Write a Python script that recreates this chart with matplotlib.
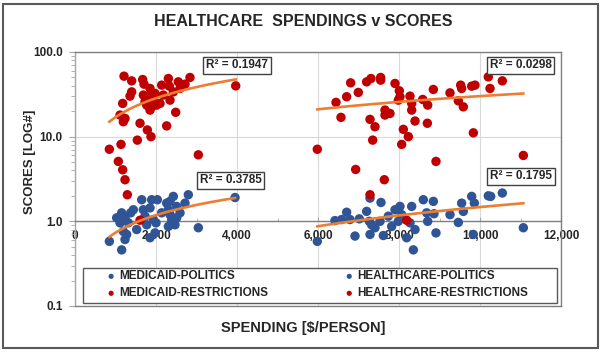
import numpy as np
import matplotlib
matplotlib.use("Agg")
import matplotlib.pyplot as plt
from matplotlib.patches import Rectangle
from matplotlib.ticker import FuncFormatter, FixedLocator, LogLocator, NullFormatter

plt.rcParams['font.family'] = ['Liberation Sans', 'DejaVu Sans']
plt.rcParams['font.weight'] = 'bold'

# ---- data ----
med_pol_x = [848, 1152, 1152, 1111, 1235, 1193, 1276, 1375, 1523, 1646, 1687, 1728, 1852,
             1893, 1933, 2000, 2033, 1852, 2263, 2305, 2346, 2428, 2387, 2469, 2510, 2593,
             2716, 2798, 3045, 3951, 2305, 2140, 1235, 1440, 2346, 1770, 1975, 2510, 1029, 1317]
med_pol_y = [0.58, 0.46, 1.26, 0.96, 1.10, 0.76, 0.70, 1.26, 0.80, 1.80, 1.37, 1.15, 0.64,
             1.80, 1.05, 0.96, 1.80, 1.44, 1.64, 1.37, 1.20, 1.97, 1.05, 0.91, 1.50, 1.26,
             1.64, 2.06, 0.84, 1.91, 0.87, 1.26, 0.61, 1.37, 1.72, 0.91, 0.73, 1.10, 1.10, 0.96]

med_res_x = [1210, 1399, 1671, 1704, 1852, 1399, 1358, 1687, 1810, 1933, 1770, 1893, 2017,
             1852, 1177, 1111, 1235, 1193, 2140, 2305, 2329, 2428, 2551, 2716, 2839, 2593,
             2181, 2346, 2099, 2486, 3968, 1605, 1786, 1876, 2263, 1539, 848, 1136, 1070,
             1177, 1235, 3045, 1728, 1975, 1292, 1605]
med_res_y = [51.8, 45.6, 47.3, 41.7, 37.1, 33.8, 30.1, 31.0, 29.6, 27.0, 23.6, 22.5, 23.6,
             20.6, 24.7, 18.0, 16.4, 15.0, 40.6, 48.6, 39.5, 33.8, 44.4, 41.7, 50.0, 37.1,
             31.0, 27.0, 24.7, 19.4, 39.8, 14.4, 12.0, 10.0, 13.4, 9.1, 7.1, 8.1, 5.1,
             4.06, 3.1, 6.1, 25.8, 32.4, 2.06, 1.03]

hc_pol_x = [5983, 6419, 6584, 6707, 6790, 6913, 7020, 7201, 7284, 7267, 7284, 7325, 7407,
            7555, 7531, 7613, 7736, 7819, 7901, 8024, 8066, 7983, 8189, 8313, 8354, 8271,
            8395, 8600, 8683, 8708, 8848, 8864, 8913, 9259, 9465, 9547, 9588, 9794, 9860,
            9835, 10205, 10264, 10551, 11070]
hc_pol_y = [0.58, 1.02, 1.05, 1.28, 1.05, 0.67, 1.07, 1.31, 1.88, 1.00, 0.70, 0.91, 0.84,
            1.67, 1.00, 0.68, 1.15, 0.87, 1.37, 1.50, 1.20, 1.00, 0.64, 1.50, 0.46, 0.96,
            0.80, 1.80, 1.26, 1.00, 1.72, 1.23, 0.73, 1.20, 0.97, 1.64, 1.31, 1.97, 1.64,
            0.70, 2.00, 1.97, 2.16, 0.84]

hc_res_x = [5983, 6444, 6707, 6567, 6806, 6995, 7201, 7308, 7547, 7547, 7901, 8008, 8024,
            8271, 7983, 7654, 7777, 7654, 7284, 7407, 7350, 8107, 8230, 8066, 8313, 8313,
            8395, 8585, 8708, 8700, 8848, 9259, 9465, 9588, 9523, 9547, 9794, 9876, 9835,
            10205, 10247, 10551, 11070, 8913, 6930, 7637, 7284, 8189]
hc_res_y = [7.1, 25.4, 29.6, 16.9, 43.2, 33.3, 44.4, 48.6, 50.0, 46.5, 42.5, 34.8, 29.6,
            30.1, 27.0, 20.6, 18.8, 18.0, 16.0, 13.1, 9.1, 12.2, 10.0, 8.1, 20.6, 24.7,
            15.3, 27.5, 23.6, 14.4, 36.1, 32.9, 26.5, 22.5, 40.6, 37.1, 39.5, 40.6, 11.1,
            50.8, 37.1, 45.6, 6.0, 5.1, 4.1, 3.1, 2.06, 1.03]

series_names = ["MEDICAID-POLITICS", "HEALTHCARE-POLITICS",
                "MEDICAID-RESTRICTIONS", "HEALTHCARE-RESTRICTIONS"]
# power trendline y = a * x**b for each series
trend_a = [0.00638, 1.226e-4, 0.0981, 0.04642]
trend_b = [0.687, 1.02, 0.746, 0.703]
r2_labels = ["R\u00b2 = 0.3785", "R\u00b2 = 0.1795", "R\u00b2 = 0.1947", "R\u00b2 = 0.0298"]
# where the R2 boxes sit (data coords), same order as series
r2_pos = [(3850, 3.05), (11010, 3.4), (4000, 69.7), (11010, 69.7)]

blue = '#2F5597'
red = '#C00000'
orange = '#ED7D31'

fig = plt.figure(figsize=(6.02, 3.52), dpi=100)
ax = fig.add_axes([0.1246, 0.1307, 0.8073, 0.7216])

series = [(med_pol_x, med_pol_y, blue), (hc_pol_x, hc_pol_y, blue),
          (med_res_x, med_res_y, red), (hc_res_x, hc_res_y, red)]
handles = []
for (sx, sy, c), name in zip(series, series_names):
    h = ax.scatter(sx, sy, s=46, color=c, edgecolors='none', zorder=3, label=name)
    handles.append(h)

for (sx, sy, c), a, b in zip(series, trend_a, trend_b):
    xx = np.linspace(min(sx), max(sx), 100)
    ax.plot(xx, a * xx ** b, color=orange, lw=1.9, zorder=4)

ax.set_yscale('log')
ax.set_ylim(0.1, 100)
ax.set_xlim(0, 12000)
ax.xaxis.set_major_locator(FixedLocator(np.arange(0, 12001, 2000)))
ax.xaxis.set_minor_locator(FixedLocator(np.arange(1000, 12000, 2000)))
ax.xaxis.set_major_formatter(FuncFormatter(lambda v, p: f"{int(v):,}"))
ax.yaxis.set_major_locator(FixedLocator([0.1, 1, 10, 100]))
ax.yaxis.set_minor_locator(LogLocator(base=10, subs=np.arange(2, 10)))
ax.yaxis.set_minor_formatter(NullFormatter())
ax.yaxis.set_major_formatter(FuncFormatter(lambda v, p: f"{v:.1f}"))

ax.grid(True, which='major', color='#D9D9D9', lw=0.8, zorder=0)
ax.set_axisbelow(True)

ax.spines['bottom'].set_position(('data', 1))
ax.spines['bottom'].set_color('#808080')
ax.spines['left'].set_color('#A6A6A6')
ax.spines['top'].set_color('#7F7F7F')
ax.spines['right'].set_color('#7F7F7F')
for sp in ax.spines.values():
    sp.set_linewidth(1.0)
ax.plot([0, 1], [0, 0], transform=ax.transAxes, color='#7F7F7F', lw=1.0, clip_on=False, zorder=5)

ax.tick_params(axis='x', which='major', length=3, direction='in', color='#A6A6A6',
               labelsize=8.5, pad=6, labelcolor='#262626')
ax.tick_params(axis='x', which='minor', length=2, direction='in', color='#A6A6A6')
ax.tick_params(axis='y', which='major', length=4, color='#A6A6A6', labelsize=8.5, pad=5,
               labelcolor='#262626')
ax.tick_params(axis='y', which='minor', length=3, color='#A6A6A6')

for txt, (px, py) in zip(r2_labels, r2_pos):
    ax.text(px, py, txt, ha='center', va='center', fontsize=8.5, fontweight='bold',
            color='#262626', zorder=6,
            bbox=dict(boxstyle='square,pad=0.22', fc='white', ec='#404040', lw=1.0))

# legend box
ax.add_patch(Rectangle((0.0165, 0.0118), 0.975, 0.138, transform=ax.transAxes,
                       fc='white', ec='#595959', lw=1.0, zorder=6))
order = [0, 2, 1, 3]
leg = ax.legend(handles=[handles[i] for i in order],
                labels=[series_names[i] for i in order], ncol=2, loc='center left',
                bbox_to_anchor=(0.067, 0.083), frameon=False, fontsize=8.5,
                markerscale=0.55, handlelength=0.6, handletextpad=0.35,
                labelspacing=0.42, columnspacing=6.6, borderpad=0, borderaxespad=0)
leg.set_zorder(7)
for t in leg.get_texts():
    t.set_color('#262626')
    t.set_fontweight('bold')

fig.text(0.504, 1 - 22 / 352, "HEALTHCARE  SPENDINGS v SCORES", ha='center', va='center',
         fontsize=11.5, fontweight='bold', color='#262626')
fig.text(0.503, 1 - 328 / 352, "SPENDING [$/PERSON]", ha='center', va='center',
         fontsize=10.5, fontweight='bold', color='#262626')
fig.text(30 / 602, 1 - 162 / 352, "SCORES [LOG#]", ha='center', va='center', rotation=90,
         fontsize=9.5, fontweight='bold', color='#262626')

fig.patches.append(Rectangle((3 / 602, 4 / 352), 595 / 602, 344 / 352, transform=fig.transFigure,
                             fill=False, ec='#595959', lw=1.5))

fig.savefig("out.png", dpi=100)
